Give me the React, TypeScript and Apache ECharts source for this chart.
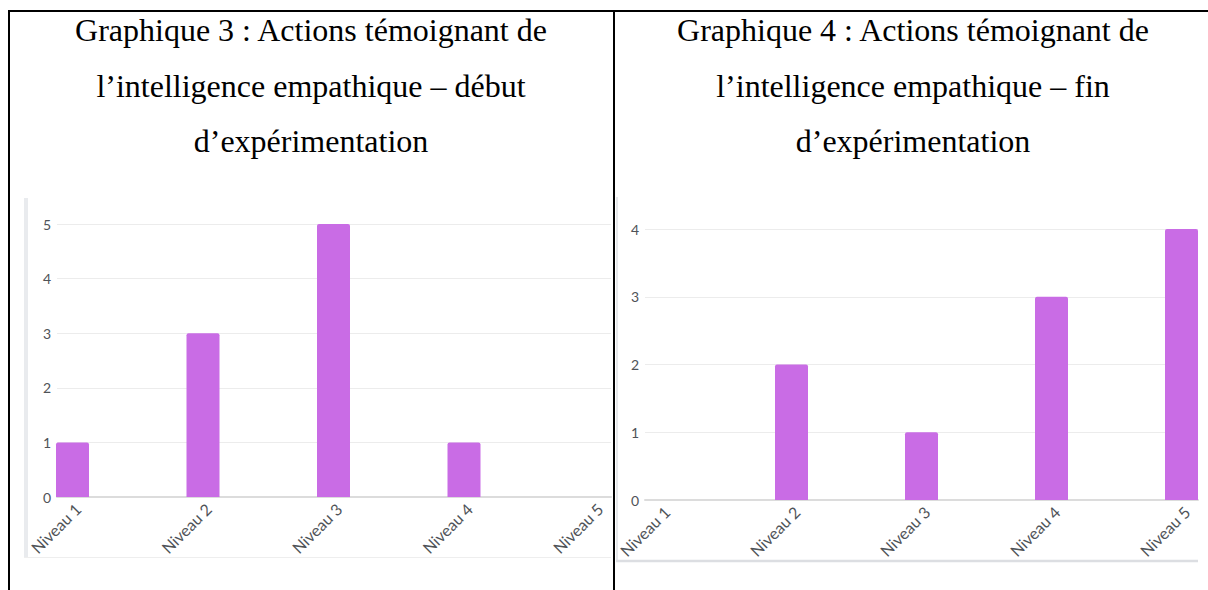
import React, { useEffect, useRef } from "react";
import * as echarts from "echarts";

const categories = ["Niveau 1", "Niveau 2", "Niveau 3", "Niveau 4", "Niveau 5"];
const debutValues = [1, 3, 5, 1, 0];
const finValues = [0, 2, 1, 3, 4];
const debutMax = 5;
const finMax = 4;
const titleDebut = [
  "Graphique 3 : Actions témoignant de",
  "l\u2019intelligence empathique \u2013 début",
  "d\u2019expérimentation",
];
const titleFin = [
  "Graphique 4 : Actions témoignant de",
  "l\u2019intelligence empathique \u2013 fin",
  "d\u2019expérimentation",
];

const BAR = "#c96ce5";
const LABEL = "#4f5358";

export default function App() {
  const ref = useRef<HTMLDivElement>(null);
  useEffect(() => {
    document.body.style.margin = "0";
    const chart = echarts.init(ref.current!, null, { renderer: "svg" });

    const titleLines = (lines: string[], cx: number) =>
      lines.map((t, i) => ({
        type: "text",
        x: cx,
        y: [30, 86, 141][i],
        style: {
          text: t,
          font: '32px "Liberation Serif", "Times New Roman", serif',
          fill: "#000",
          textAlign: "center",
          textVerticalAlign: "middle",
        },
      }));

    const blackLine = (x1: number, y1: number, x2: number, y2: number) => ({
      type: "line",
      shape: { x1, y1, x2, y2 },
      style: { stroke: "#000", lineWidth: 2 },
      z: 10,
    });
    const grayLine = (x1: number, y1: number, x2: number, y2: number, w: number, c: string) => ({
      type: "line",
      shape: { x1, y1, x2, y2 },
      style: { stroke: c, lineWidth: w },
    });

    const yAxisVisible = (grid: number, max: number) => ({
      type: "value",
      gridIndex: grid,
      min: 0,
      max,
      interval: 1,
      axisLine: { show: false },
      axisTick: { show: false },
      axisLabel: { color: LABEL, fontSize: 14, fontFamily: "Lato", margin: 6 },
      splitLine: { lineStyle: { color: "#ececec", width: 1 } },
    });
    const yAxisHidden = (grid: number, max: number) => ({
      type: "value",
      gridIndex: grid,
      min: 0,
      max,
      show: false,
    });
    const xAxisLine = (grid: number) => ({
      type: "category",
      gridIndex: grid,
      data: categories,
      axisLine: { lineStyle: { color: "#dcdcdc", width: 2 } },
      axisTick: { show: false },
      axisLabel: { show: false },
    });
    const xAxisBars = (grid: number) => ({
      type: "category",
      gridIndex: grid,
      data: categories,
      boundaryGap: false,
      show: false,
    });
    const xAxisLabels = (grid: number) => ({
      type: "category",
      gridIndex: grid,
      data: categories,
      boundaryGap: false,
      axisLine: { show: false },
      axisTick: { show: false },
      axisLabel: {
        rotate: 45,
        interval: 0,
        color: LABEL,
        fontSize: 16,
        fontFamily: "Lato",
        margin: 9,
      },
    });
    const barSeries = (xi: number, yi: number, data: number[]) => ({
      type: "bar",
      xAxisIndex: xi,
      yAxisIndex: yi,
      data,
      barWidth: 33,
      itemStyle: { color: BAR, borderRadius: [2, 2, 0, 0] },
    });

    chart.setOption({
      animation: false,
      grid: [
        { left: 57, top: 224, width: 554, height: 273 },
        { left: 72.5, top: 224, width: 522, height: 273 },
        { left: 78, top: 224, width: 522, height: 273 },
        { left: 645, top: 229, width: 553, height: 271 },
        { left: 661.5, top: 229, width: 520, height: 271 },
        { left: 667, top: 229, width: 520, height: 271 },
      ],
      xAxis: [
        xAxisLine(0),
        xAxisBars(1),
        xAxisLabels(2),
        xAxisLine(3),
        xAxisBars(4),
        xAxisLabels(5),
      ],
      yAxis: [
        yAxisVisible(0, debutMax),
        yAxisHidden(1, debutMax),
        yAxisHidden(2, debutMax),
        yAxisVisible(3, finMax),
        yAxisHidden(4, finMax),
        yAxisHidden(5, finMax),
      ],
      series: [barSeries(1, 1, debutValues), barSeries(4, 4, finValues)],
      graphic: [
        ...titleLines(titleDebut, 311),
        ...titleLines(titleFin, 913),
        grayLine(26, 198, 26, 557, 4, "#e9ebee"),
        grayLine(24, 557.5, 611, 557.5, 1, "#eeeeee"),
        grayLine(617, 197, 617, 560, 2, "#e6e8eb"),
        grayLine(616, 561, 1198, 561, 2.5, "#dcdee2"),
        blackLine(8, 11, 1208, 11),
        blackLine(9, 10, 9, 590),
        blackLine(614, 10, 614, 590),
      ],
    });
    return () => chart.dispose();
  }, []);
  return <div ref={ref} style={{ width: 1208, height: 590, background: "#fff" }} />;
}
